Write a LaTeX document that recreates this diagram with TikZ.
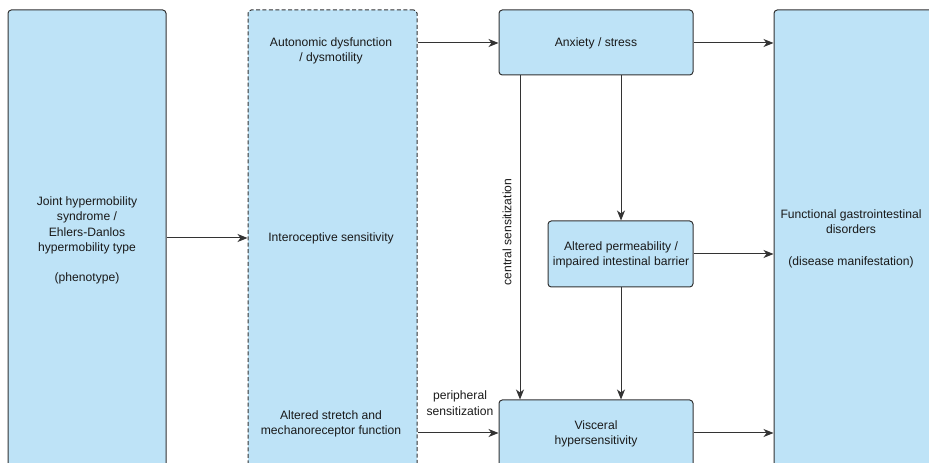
\documentclass[tikz,border=0pt]{standalone}
\usepackage{fontspec}
\setmainfont{Liberation Sans}
\usetikzlibrary{arrows.meta,fit}
\definecolor{boxfill}{HTML}{BEE3F7}
\definecolor{edgec}{HTML}{333333}
\begin{document}
\begin{tikzpicture}[x=0.75pt,y=-0.75pt,
  box/.style={draw=edgec, fill=boxfill, line width=0.75pt, rounded corners=2.5pt, inner sep=0pt},
  dbox/.style={box, dash pattern=on 3pt off 1.8pt},
  txt/.style={font=\fontsize{9.1}{11.6}\selectfont, align=center, inner sep=0pt, text=black!90},
  arr/.style={draw=edgec, line width=0.75pt, -{Stealth[length=7.5pt,width=6pt,inset=2.2pt]}}]
\useasboundingbox (0,0) rectangle (929,463);
\clip (0,0) rectangle (929,463);
% boxes
\node[box, fit={(8,10)(166,520)}] (lb) {};
\node[dbox, fit={(248,10)(417,520)}] (db) {};
\node[box, fit={(499,10)(693,75)}] (anx) {};
\node[box, fit={(548,221)(693,287)}] (perm) {};
\node[box, fit={(499,400)(693,520)}] (vis) {};
\node[box, fit={(774,10)(940,520)}] (rb) {};
% texts
\node[txt] (lbt) at (87,240) {Joint hypermobility\\syndrome /\\Ehlers-Danlos\\hypermobility type\\[10.5pt](phenotype)};
\node[txt] (auto) at (331,51) {Autonomic dysfunction\\/ dysmotility};
\node[txt] (intero) at (331,238) {Interoceptive sensitivity};
\node[txt] (stretch) at (331,424) {Altered stretch and\\mechanoreceptor function};
\node[txt] (anxt) at (596,43) {Anxiety / stress};
\node[txt] (permt) at (621,255) {Altered permeability /\\impaired intestinal barrier};
\node[txt] (vist) at (596,434) {Visceral\\hypersensitivity};
\node[txt] (rbt) at (851,239) {Functional gastrointestinal\\disorders\\[12.5pt](disease manifestation)};
\node[txt, rotate=90] (central) at (507,232) {central sensitization};
\node[txt] (periph) at (460,403) {peripheral\\sensitization};
% helper coordinates
\coordinate (xa) at (520,0);
\coordinate (xb) at (621,0);
\coordinate (ya) at (0,43);
\coordinate (yb) at (0,254);
\coordinate (yc) at (0,433);
% connectors
\draw[arr] (lb.east |- intero) -- (db.west |- intero);
\draw[arr] (db.east |- ya) -- (anx.west |- ya);
\draw[arr] (anx.east |- ya) -- (rb.west |- ya);
\draw[arr] (anx.south -| xa) -- (vis.north -| xa);
\draw[arr] (anx.south -| xb) -- (perm.north -| xb);
\draw[arr] (perm.east |- yb) -- (rb.west |- yb);
\draw[arr] (perm.south -| xb) -- (vis.north -| xb);
\draw[arr] (db.east |- yc) -- (vis.west |- yc);
\draw[arr] (vis.east |- yc) -- (rb.west |- yc);
\end{tikzpicture}
\end{document}
